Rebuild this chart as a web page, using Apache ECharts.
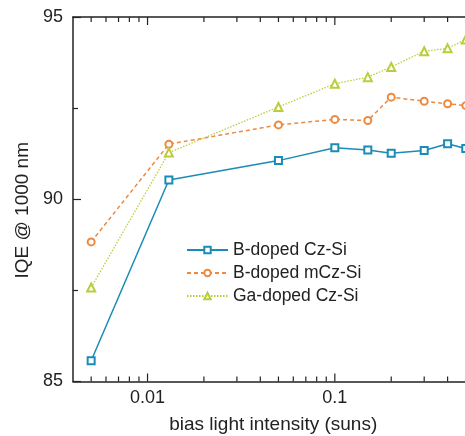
<!DOCTYPE html>
<html>
<head>
<meta charset="utf-8">
<script src="https://cdn.jsdelivr.net/npm/echarts@6/dist/echarts.min.js"></script>
<style>
  html, body { margin: 0; padding: 0; background: #fff; }
  #chart { width: 465px; height: 436px; }
</style>
</head>
<body>
<div id="chart"></div>
<script>
// Bias light intensity (suns)
const intensity = [0.005, 0.013, 0.05, 0.1, 0.15, 0.2, 0.3, 0.4, 0.5];
// IQE at 1000 nm (%)
const bDopedCz = [85.57, 90.53, 91.06, 91.41, 91.35, 91.26, 91.34, 91.52, 91.39];
const bDopedMCz = [88.83, 91.51, 92.04, 92.19, 92.16, 92.80, 92.69, 92.62, 92.57];
const gaDopedCz = [87.58, 91.28, 92.53, 93.17, 93.35, 93.63, 94.06, 94.14, 94.38];
const seriesNames = ['B-doped Cz-Si', 'B-doped mCz-Si', 'Ga-doped Cz-Si'];
// Tick positions on the log axis (decades and the minor steps between them)
const majorTicks = [0.01, 0.1];
const minorTicks = [0.005, 0.006, 0.007, 0.008, 0.009,
  0.02, 0.03, 0.04, 0.05, 0.06, 0.07, 0.08, 0.09,
  0.2, 0.3, 0.4, 0.5];

const FONT = '"Liberation Sans", Arial, sans-serif';
const INK = '#222';
const Y_MIN = 85, Y_MAX = 95;

function pairs(xs, ys) { return xs.map((x, i) => [x, ys[i]]); }

// inward tick marks on the bottom and top frame lines
function tickItems(values, len) {
  const items = [];
  values.forEach(v => {
    items.push({ value: [v, Y_MIN], symbolSize: [1.2, len], symbolOffset: [0, -len / 2] });
    items.push({ value: [v, Y_MAX], symbolSize: [1.2, len], symbolOffset: [0, len / 2] });
  });
  return items;
}

const chart = echarts.init(document.getElementById('chart'), null, { renderer: 'canvas' });

const baseX = {
  type: 'log',
  logBase: 10,
  min: 0.004,
  max: 0.55,
  splitLine: { show: false },
  axisLine: { show: true, onZero: false, lineStyle: { color: INK, width: 1.5 } },
  axisTick: { show: false }
};

chart.setOption({
  animation: false,
  backgroundColor: '#fff',
  grid: { left: 73, top: 17, width: 400.5, bottom: 54.5, containLabel: false, outerBoundsMode: 'none' },
  xAxis: [
    Object.assign({}, baseX, {
      position: 'bottom',
      name: 'bias light intensity (suns)',
      nameLocation: 'middle',
      nameGap: 34,
      nameTextStyle: { fontFamily: FONT, fontSize: 19, color: INK },
      axisLabel: {
        show: true, margin: 8, fontFamily: FONT, fontSize: 18, color: INK,
        showMinLabel: false, showMaxLabel: false,
        formatter: v => String(+v.toPrecision(3))
      }
    }),
    Object.assign({}, baseX, {
      position: 'top',
      axisLabel: { show: false }
    })
  ],
  yAxis: {
    type: 'value',
    min: Y_MIN, max: Y_MAX, interval: 5,
    name: 'IQE @ 1000 nm',
    nameLocation: 'middle',
    nameGap: 41,
    nameTextStyle: { fontFamily: FONT, fontSize: 19, color: INK, padding: [0, 22, 0, 0] },
    splitLine: { show: false },
    axisLine: { show: true, lineStyle: { color: INK, width: 1.5 } },
    axisTick: { show: true, inside: true, length: 8, lineStyle: { color: INK, width: 1.2 } },
    minorTick: { show: true, splitNumber: 2, length: 5, lineStyle: { color: INK, width: 1.2 } },
    axisLabel: { margin: 10, fontFamily: FONT, fontSize: 18, color: INK }
  },
  legend: {
    data: seriesNames,
    orient: 'vertical',
    left: 186,
    top: 241,
    padding: 0,
    itemWidth: 41,
    itemHeight: 8,
    itemGap: 5,
    textStyle: { fontFamily: FONT, fontSize: 17.5, color: INK }
  },
  series: [
    {
      name: seriesNames[0], type: 'line', data: pairs(intensity, bDopedCz),
      symbol: 'emptyRect', symbolSize: 7,
      lineStyle: { color: '#1a8cb6', width: 1.5, type: 'solid' },
      itemStyle: { color: '#1a8cb6', borderWidth: 1.3 },
      clip: true
    },
    {
      name: seriesNames[1], type: 'line', data: pairs(intensity, bDopedMCz),
      symbol: 'emptyCircle', symbolSize: 7,
      lineStyle: { color: '#ee8a40', width: 1.5, type: [4, 3] },
      itemStyle: { color: '#ee8a40', borderWidth: 1.3 },
      clip: true
    },
    {
      name: seriesNames[2], type: 'line', data: pairs(intensity, gaDopedCz),
      symbol: 'emptyTriangle', symbolSize: 8,
      lineStyle: { color: '#bccd3c', width: 1.3, type: [1.5, 1.5] },
      itemStyle: { color: '#bccd3c', borderWidth: 1.3 },
      clip: true
    },
    {
      name: 'xticks',
      type: 'line',
      silent: true,
      clip: false,
      z: 10,
      lineStyle: { width: 0, opacity: 0 },
      symbol: 'rect',
      showSymbol: true,
      showAllSymbol: true,
      itemStyle: { color: INK, opacity: 1 },
      emphasis: { disabled: true },
      data: tickItems(majorTicks, 8).concat(tickItems(minorTicks, 5))
    }
  ]
});
</script>
</body>
</html>
